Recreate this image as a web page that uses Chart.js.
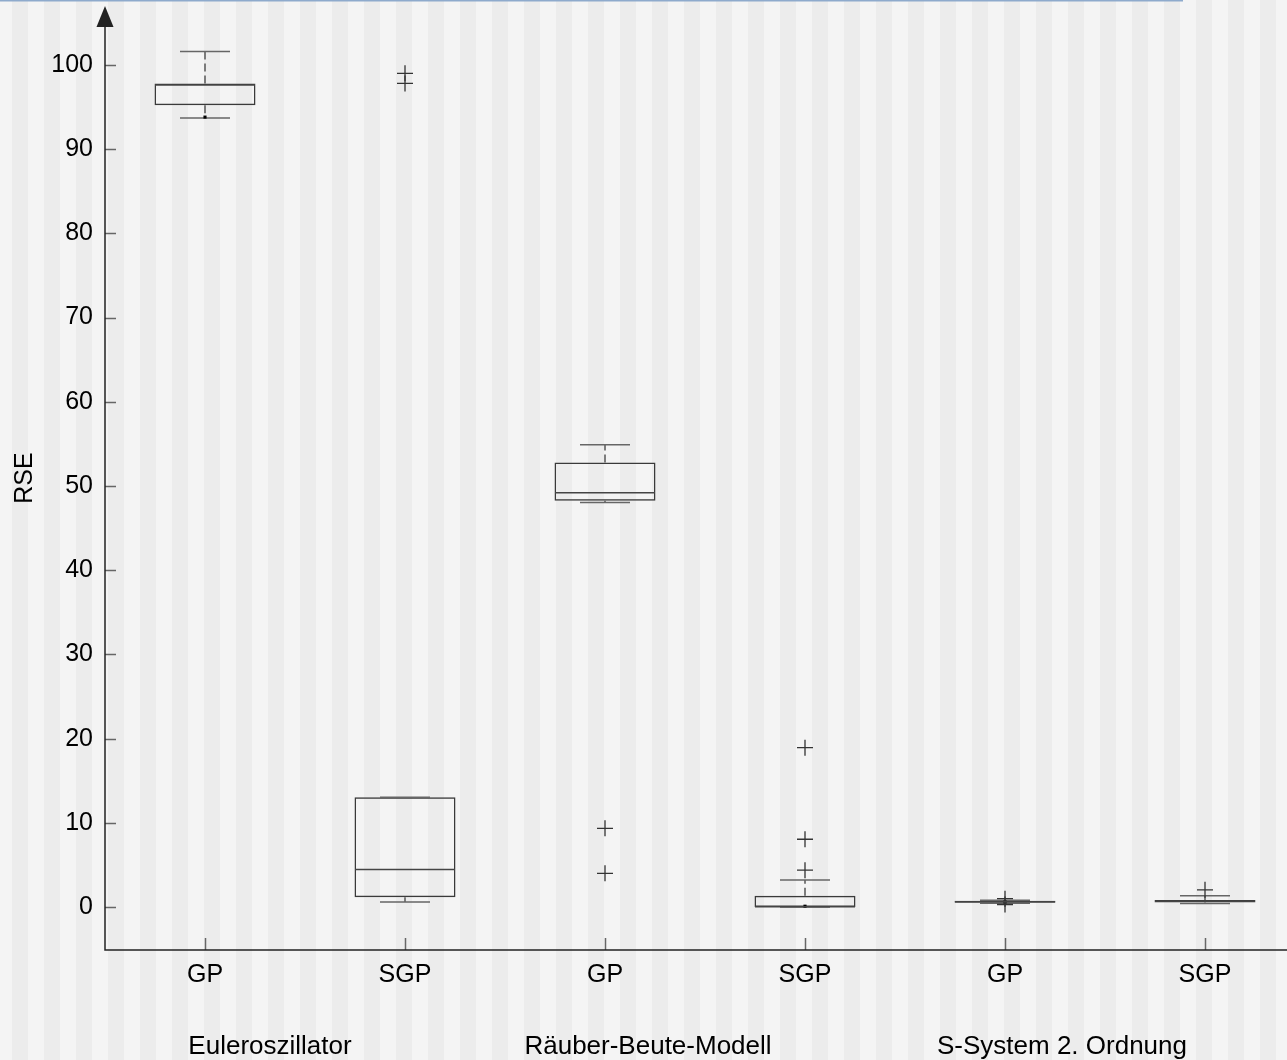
<!DOCTYPE html>
<html>
<head>
<meta charset="utf-8">
<script src="https://cdn.jsdelivr.net/npm/chart.js@4/dist/chart.umd.min.js"></script>
<style>
  body { margin: 0; background: #f4f4f4; }
  #wrap { width: 1287px; height: 1060px; }
</style>
</head>
<body>
<div id="wrap"><canvas id="rseChart" width="1287" height="1060"></canvas></div>
<script>
const categories = ["GP", "SGP", "GP", "SGP", "GP", "SGP"];
const groups = ["Euleroszillator", "Räuber-Beute-Modell", "S-System 2. Ordnung"];

// box plot values per category
const whiskerLow  = [93.7, 0.6, 48.05, 0.0, 0.45, 0.43];
const q1          = [95.2, 1.15, 48.25, 0.0, 0.5, 0.55];
const median      = [97.6, 4.45, 49.2, 0.05, 0.62, 0.7];
const q3          = [97.8, 13.05, 52.8, 1.34, 0.75, 0.85];
const whiskerHigh = [101.6, 13.05, 54.9, 3.2, 0.8, 1.33];
const outliers    = [[], [99.0, 97.8], [9.35, 4.0], [18.93, 8.05, 4.38], [1.0, 0.3], [2.04]];
const dots        = [93.8, null, null, 0.1, 0.6, null];

const yTicks = [0, 10, 20, 30, 40, 50, 60, 70, 80, 90, 100];

const FONT = "'Liberation Sans', Arial, sans-serif";

// build point lists for the library
let boxData = [], medianData = [], capData = [], whiskerData = [], outlierData = [], dotData = [];
categories.forEach((c, i) => {
    let x = i + 1;
    boxData.push({ x: x, y: [q1[i], q3[i]] });
    medianData.push({ x: x, y: median[i] });
    capData.push({ x: x, y: whiskerLow[i] }, { x: x, y: whiskerHigh[i] });
    whiskerData.push({ x: x, y: q3[i] }, { x: x, y: whiskerHigh[i] }, { x: x, y: null });
    whiskerData.push({ x: x, y: q1[i] }, { x: x, y: whiskerLow[i] }, { x: x, y: null });
    outliers[i].forEach(v => outlierData.push({ x: x, y: v }));
    if (dots[i] !== null) dotData.push({ x: x, y: dots[i] });
});

const decor = {
    id: "decor",
    beforeDraw(chart) {
        const ctx = chart.ctx;
        ctx.save();
        ctx.fillStyle = "#f4f4f4";
        ctx.fillRect(0, 0, chart.width, chart.height);
        ctx.fillStyle = "#ececec";
        for (let x = 12; x < chart.width; x += 32) ctx.fillRect(x, 0, 16, chart.height);
        // thin blue line at the top
        ctx.fillStyle = "#8eaacc";
        ctx.fillRect(0, 0, 1183, 1.5);
        ctx.restore();
    },
    afterDraw(chart) {
        const ctx = chart.ctx;
        const xs = chart.scales.x, ys = chart.scales.y;
        const a = chart.chartArea;
        ctx.save();
        // inside tick marks
        ctx.strokeStyle = "#666";
        ctx.lineWidth = 1.5;
        ys.ticks.forEach(t => {
            let y = Math.round(ys.getPixelForValue(t.value)) + 0.5;
            ctx.beginPath(); ctx.moveTo(a.left, y); ctx.lineTo(a.left + 11, y); ctx.stroke();
        });
        xs.ticks.forEach(t => {
            let x = Math.round(xs.getPixelForValue(t.value)) + 0.5;
            ctx.beginPath(); ctx.moveTo(x, a.bottom); ctx.lineTo(x, a.bottom - 12); ctx.stroke();
        });
        // axis lines + arrow
        ctx.strokeStyle = "#222";
        ctx.lineWidth = 1.5;
        ctx.beginPath();
        ctx.moveTo(a.left, a.top);
        ctx.lineTo(a.left, a.bottom);
        ctx.lineTo(chart.width, a.bottom);
        ctx.stroke();
        ctx.fillStyle = "#222";
        ctx.beginPath();
        ctx.moveTo(a.left, 6);
        ctx.lineTo(a.left - 8.5, a.top);
        ctx.lineTo(a.left + 8.5, a.top);
        ctx.closePath();
        ctx.fill();
        // y title
        ctx.fillStyle = "#000";
        ctx.font = "25px " + FONT;
        ctx.textAlign = "center";
        ctx.textBaseline = "middle";
        ctx.save();
        ctx.translate(25, (6 + a.bottom) / 2);
        ctx.rotate(-Math.PI / 2);
        ctx.fillText("RSE", 0, 0);
        ctx.restore();
        // group labels under each pair
        const shift = [-35, -57, -43];
        ctx.font = "26px " + FONT;
        ctx.textBaseline = "alphabetic";
        groups.forEach((g, i) => {
            let mid = (xs.getPixelForValue(2 * i + 1) + xs.getPixelForValue(2 * i + 2)) / 2;
            ctx.fillText(g, mid + shift[i], 1054);
        });
        ctx.restore();
    }
};

new Chart(document.getElementById("rseChart"), {
    type: "bar",
    data: {
        datasets: [
            {
                type: "bar", label: "box", data: boxData,
                backgroundColor: "rgba(0,0,0,0)", borderColor: "#3a3a3a",
                borderWidth: 1.5, borderSkipped: false,
                barPercentage: 0.505, categoryPercentage: 1, grouped: false, order: 2
            },
            {
                type: "line", label: "whisker", data: whiskerData,
                borderColor: "#555", borderWidth: 1.5, borderDash: [8, 4],
                pointRadius: 0, spanGaps: false, fill: false, order: 3
            },
            {
                type: "scatter", label: "cap", data: capData,
                pointStyle: "line", pointRadius: 25, borderColor: "#666",
                borderWidth: 1.5, order: 1
            },
            {
                type: "scatter", label: "median", data: medianData,
                pointStyle: "line", pointRadius: 50, borderColor: "#444",
                borderWidth: 1.5, order: 0
            },
            {
                type: "scatter", label: "outlier", data: outlierData,
                pointStyle: "cross", pointRadius: 8, borderColor: "#333",
                borderWidth: 1.3, order: 0
            },
            {
                type: "scatter", label: "dot", data: dotData,
                pointStyle: "rect", pointRadius: 2.2, backgroundColor: "#000",
                borderColor: "#000", borderWidth: 0, order: 0
            }
        ]
    },
    options: {
        responsive: false,
        devicePixelRatio: 1,
        animation: false,
        layout: { autoPadding: false, padding: { top: 24, right: 0, left: 0, bottom: 0 } },
        plugins: { legend: { display: false }, tooltip: { enabled: false } },
        scales: {
            x: {
                type: "linear", min: 0.5, max: 6.41, offset: false,
                grid: { display: false }, border: { display: false },
                afterBuildTicks: s => { s.ticks = categories.map((c, i) => ({ value: i + 1 })); },
                afterFit: s => { s.height = 110; },
                ticks: {
                    autoSkip: false, maxRotation: 0, padding: 2,
                    color: "#000", font: { family: FONT, size: 25 },
                    callback: v => categories[v - 1]
                }
            },
            y: {
                min: -5.1, max: 104.5,
                grid: { display: false, drawTicks: false }, border: { display: false },
                afterBuildTicks: s => { s.ticks = yTicks.map(v => ({ value: v })); },
                afterFit: s => { s.width = 105; },
                ticks: { padding: 12, color: "#000", font: { family: FONT, size: 25 } }
            }
        }
    },
    plugins: [decor]
});
</script>
</body>
</html>
